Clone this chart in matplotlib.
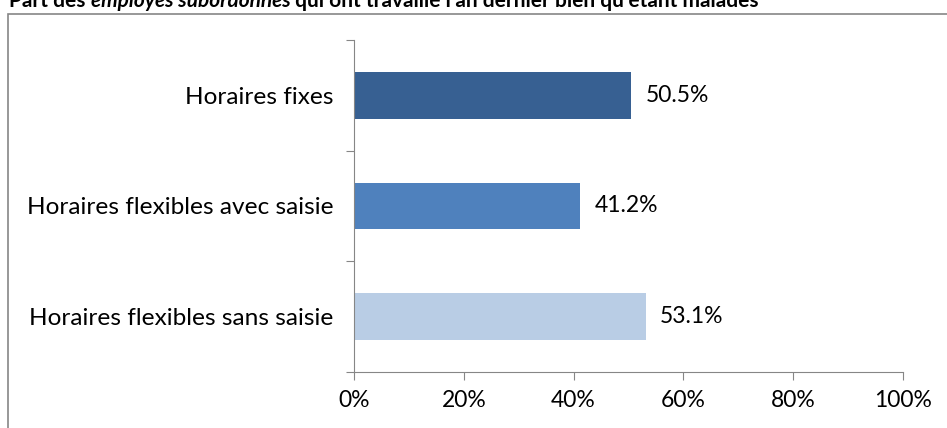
import matplotlib
matplotlib.use('Agg')
import matplotlib.pyplot as plt
from matplotlib.patches import Rectangle

plt.rcParams['font.family'] = ['Lato', 'DejaVu Sans']

categories = ['Horaires flexibles sans saisie', 'Horaires flexibles avec saisie', 'Horaires fixes']
values = [53.1, 41.2, 50.5]
colors = ['#b9cde5', '#4f81bd', '#376092']
xticks = [0, 20, 40, 60, 80, 100]

W, H = 947, 428
fig = plt.figure(figsize=(W / 100, H / 100), dpi=100)

# outer chart frame (cut by the image edges)
fig.patches.append(Rectangle((8 / W, -0.1), 1.2, 1 - 14 / H + 0.1, transform=fig.transFigure,
                             fill=False, edgecolor='#868686', linewidth=1.2))

ax = fig.add_axes([354 / W, 1 - 372 / H, (903 - 354) / W, (372 - 40) / H])
ax.barh(range(3), values, height=0.42, color=colors)
ax.set_xlim(0, 100)
ax.set_ylim(-0.5, 2.5)

for i, v in enumerate(values):
    ax.text(v + 2.6, i, f'{v:.1f}%', va='center', ha='left', fontsize=16.5)

ax.set_xticks(xticks)
ax.set_xticklabels([f'{t}%' for t in xticks], fontsize=16.5)
ax.set_yticks([-0.5, 0.5, 1.5, 2.5])
ax.set_yticklabels([])
ax.set_yticks(range(3), minor=True)
ax.set_yticklabels(categories, minor=True, fontsize=17.6)
ax.tick_params(axis='y', which='minor', length=0, pad=15)
ax.tick_params(axis='y', which='major', length=6, color='#868686')
ax.tick_params(axis='x', length=6, color='#868686', pad=7)
for s in ['top', 'right']:
    ax.spines[s].set_visible(False)
for s in ['left', 'bottom']:
    ax.spines[s].set_color('#868686')

# title with italic part (cut at the top edge, as in the original)
parts = [('Part des ', 'normal'), ('employés subordonnés', 'italic'),
         (" qui ont travaillé l'an dernier bien qu'étant malades", 'normal')]
x = 9 / W
y = 1 - 7 / H
renderer = fig.canvas.get_renderer()
for txt, style in parts:
    t = fig.text(x, y, txt, fontsize=15, fontweight='bold', style=style, va='baseline')
    bb = t.get_window_extent(renderer=renderer)
    x = bb.x1 / W

fig.savefig('out.png', dpi=100)
